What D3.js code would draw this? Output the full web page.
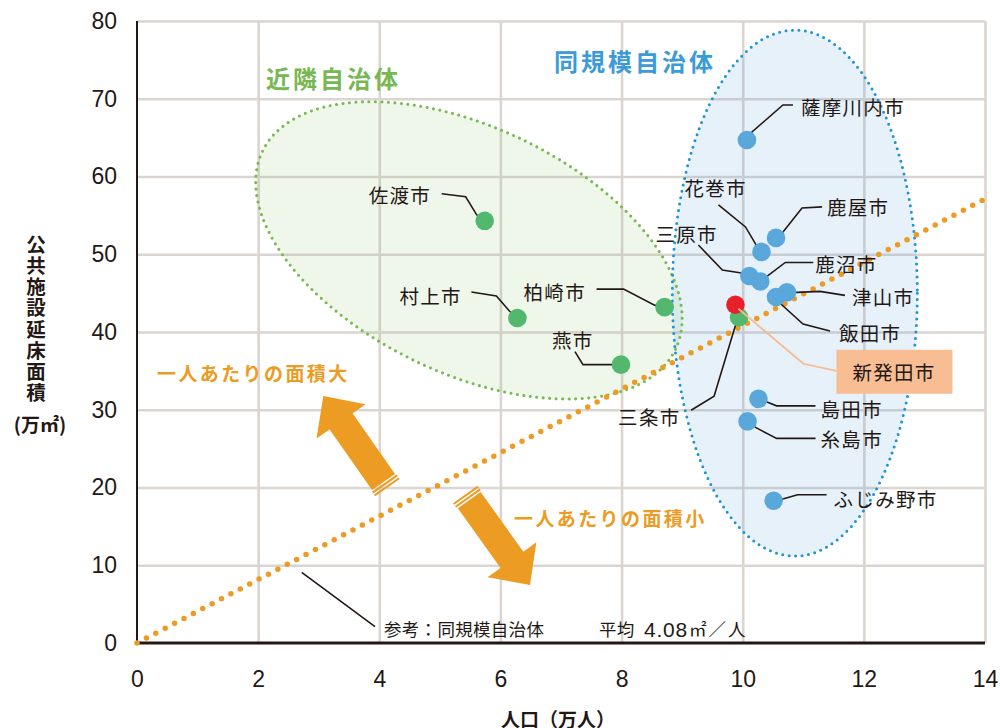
<!DOCTYPE html>
<html><head><meta charset="utf-8">
<script src="https://cdn.jsdelivr.net/npm/d3@7"></script>
<style>
html,body{margin:0;padding:0;background:#fff;}
svg{display:block;}
</style></head><body>
<svg id="chart" width="1000" height="728"></svg>
<script>
// Population (万人) vs. total floor area of public facilities (万㎡)
const nearbyCities = ["佐渡市", "村上市", "柏崎市", "燕市", "三条市"];
const nearbyPop    = [5.74, 6.28, 8.71, 7.99, 9.94];
const nearbyArea   = [54.3, 41.8, 43.2, 35.8, 41.9];

const peerCities = ["薩摩川内市", "鹿屋市", "花巻市", "三原市", "鹿沼市", "津山市", "飯田市", "島田市", "糸島市", "ふじみ野市"];
const peerPop    = [10.07, 10.55, 10.31, 10.11, 10.29, 10.73, 10.55, 10.26, 10.08, 10.51];
const peerArea   = [64.7, 52.1, 50.3, 47.2, 46.5, 45.1, 44.5, 31.4, 28.5, 18.3];

const focusCity = "新発田市";
const focusPop  = 9.88;
const focusArea = 43.5;

const peerAverage = 4.08;   // ㎡ per person (= 万㎡ per 万人)
const xTicks = [0, 2, 4, 6, 8, 10, 12, 14];
const yTicks = [0, 10, 20, 30, 40, 50, 60, 70, 80];

// Leader-line layout for each city label: bends relative to the marker, label start and centre line
const labelLayout = {
  "佐渡市":   {path: [[-8,-6],[-19,-24],[-43,-27]], tx: -116, ty: -26},
  "村上市":   {path: [[-8,-7],[-21,-22],[-46,-26]], tx: -118, ty: -23},
  "柏崎市":   {path: [[-10,-2],[-41,-18],[-68,-18]], tx: -141, ty: -16},
  "燕市":     {path: [[-9,0],[-38,0],[-46,-13]],   tx: -69,  ty: -25},
  "三条市":   {path: [[-3,6],[-25,79],[-48,93]],   tx: -121, ty: 99},
  "薩摩川内市": {path: [[5,-8],[36,-35],[46,-35]],  tx: 54,   ty: -33},
  "鹿屋市":   {path: [[7,-6],[26,-30],[46,-31]],   tx: 51,   ty: -31},
  "花巻市":   {path: [[-6,-8],[-16,-25],[-43,-47]], tx: -77,  ty: -64},
  "三原市":   {path: [[-8,-3],[-27,-6],[-51,-31]],  tx: -94,  ty: -43},
  "鹿沼市":   {path: [[8,-6],[25,-19],[53,-19]],   tx: 55,   ty: -18},
  "津山市":   {path: [[10,0],[33,-1],[58,3]],      tx: 65,   ty: 4},
  "飯田市":   {path: [[6,8],[27,27],[54,34]],      tx: 63,   ty: 35},
  "島田市":   {path: [[8,3],[18,7],[57,7]],        tx: 62,   ty: 10},
  "糸島市":   {path: [[8,6],[29,17],[68,17]],      tx: 73,   ty: 17},
  "ふじみ野市": {path: [[10,-2],[24,-6],[53,-6]],   tx: 60,   ty: -2}
};

const svg = d3.select("#chart");
const x = d3.scaleLinear().domain([0, 14]).range([137, 985]);
const y = d3.scaleLinear().domain([0, 80]).range([643, 21]);

const jp = "'Noto Sans CJK JP', 'Noto Sans', sans-serif";
const latin = "'Liberation Sans', Arial, sans-serif";
const ink = "#231815";
const orange = "#ec9b23";
const green = "#52b86e", greenLine = "#79ba51", greenText = "#77b852";
const blue = "#5aa7dc", blueLine = "#1f94d4", blueText = "#3a9bd8";

// Grid
const grid = svg.append("g");
grid.append("g")
  .attr("transform", `translate(0,${y(0)})`)
  .call(d3.axisBottom(x).tickValues(xTicks.slice(1)).tickSize(-(y(0) - y(80))).tickFormat(""))
  .call(g => g.select(".domain").remove())
  .call(g => g.selectAll("line").attr("stroke", "#dbd5d2").attr("stroke-width", 2.6));
grid.append("g")
  .attr("transform", `translate(${x(0)},0)`)
  .call(d3.axisLeft(y).tickValues(yTicks.slice(1)).tickSize(-(x(14) - x(0))).tickFormat(""))
  .call(g => g.select(".domain").remove())
  .call(g => g.selectAll("line").attr("stroke", "#dbd5d2").attr("stroke-width", 2.6));

// Group ellipses
const groups = svg.append("g");
const gEll = {cx: x(5.48), cy: y(50.5), rx: 229, ry: 123, rot: 25.6};
const bEll = {cx: x(10.86), cy: y(45.0), rx: 122.5, ry: 263, rot: 0};
[[gEll, "rgba(120,185,80,0.12)"], [bEll, "rgba(60,145,215,0.13)"]].forEach(([e, f]) => {
  groups.append("ellipse")
    .attr("cx", e.cx).attr("cy", e.cy).attr("rx", e.rx).attr("ry", e.ry)
    .attr("transform", `rotate(${e.rot},${e.cx},${e.cy})`)
    .attr("fill", f);
});
[[gEll, greenLine], [bEll, blueLine]].forEach(([e, c]) => {
  groups.append("ellipse")
    .attr("cx", e.cx).attr("cy", e.cy).attr("rx", e.rx).attr("ry", e.ry)
    .attr("transform", `rotate(${e.rot},${e.cx},${e.cy})`)
    .attr("fill", "none").attr("stroke", c).attr("stroke-width", 3)
    .attr("stroke-dasharray", "0 6.5").attr("stroke-linecap", "round");
});

// Axis lines
svg.append("line").attr("x1", x(0)).attr("x2", x(0)).attr("y1", y(80)).attr("y2", y(0))
  .attr("stroke", ink).attr("stroke-width", 2);
svg.append("line").attr("x1", x(0) - 1).attr("x2", x(14)).attr("y1", y(0)).attr("y2", y(0))
  .attr("stroke", ink).attr("stroke-width", 3);

// Tick labels
svg.append("g").attr("transform", `translate(0,${y(0)})`)
  .call(d3.axisBottom(x).tickValues(xTicks).tickSize(0).tickPadding(28).tickFormat(d3.format("d")))
  .call(g => g.select(".domain").remove())
  .call(g => g.selectAll("text").attr("font-family", latin).attr("font-size", 23).attr("fill", ink));
svg.append("g").attr("transform", `translate(${x(0)},0)`)
  .call(d3.axisLeft(y).tickValues(yTicks).tickSize(0).tickPadding(20).tickFormat(d3.format("d")))
  .call(g => g.select(".domain").remove())
  .call(g => g.selectAll("text").attr("font-family", latin).attr("font-size", 23).attr("fill", ink));

// Axis titles
svg.append("text").attr("x", 558).attr("y", 718).attr("text-anchor", "middle")
  .attr("dominant-baseline", "central").attr("font-family", jp).attr("font-size", 19)
  .attr("font-weight", 700).attr("fill", ink).text("人口（万人）");
svg.append("text").attr("x", 36).attr("y", 235)
  .attr("writing-mode", "vertical-rl").attr("font-family", jp).attr("font-size", 19.5)
  .attr("letter-spacing", 1.6).attr("font-weight", 700).attr("fill", ink)
  .text("公共施設延床面積");
svg.append("text").attr("x", 40).attr("y", 423).attr("text-anchor", "middle")
  .attr("dominant-baseline", "central").attr("font-family", jp).attr("font-size", 19)
  .attr("font-weight", 700).attr("fill", ink).text("(万㎡)");

// Reference line: peer average per person
svg.append("line")
  .attr("x1", x(0)).attr("y1", y(0))
  .attr("x2", x(14)).attr("y2", y(14 * peerAverage))
  .attr("stroke", orange).attr("stroke-width", 5.5)
  .attr("stroke-dasharray", "0 10.6").attr("stroke-linecap", "round");

// Direction arrows with broken tails
function arrow(tail, tip) {
  const T = [x(tail[0]), y(tail[1])], P = [x(tip[0]), y(tip[1])];
  const L = Math.hypot(P[0] - T[0], P[1] - T[1]);
  const u = [(P[0] - T[0]) / L, (P[1] - T[1]) / L], n = [-u[1], u[0]];
  const sw = 14, hw = 30, hl = 31;
  const B = [P[0] - u[0] * hl, P[1] - u[1] * hl];
  const pt = (o, k) => [o[0] + n[0] * k, o[1] + n[1] * k];
  const body = [pt(T, sw), pt(B, sw), pt(B, hw), P, pt(B, -hw), pt(B, -sw), pt(T, -sw)];
  svg.append("polygon").attr("points", body.map(p => p.join(",")).join(" ")).attr("fill", orange);
  [[1.4, 3.4], [4.8, 6.8]].forEach(([a, b]) => {
    const A = [T[0] - u[0] * a, T[1] - u[1] * a], C = [T[0] - u[0] * b, T[1] - u[1] * b];
    const s = [pt(A, sw + 1), pt(C, sw + 1), pt(C, -sw - 1), pt(A, -sw - 1)];
    svg.append("polygon").attr("points", s.map(p => p.join(",")).join(" ")).attr("fill", orange);
  });
}
arrow([4.07, 20.7], [3.076, 31.77]);
arrow([5.485, 18.39], [6.488, 7.46]);

// Annotation texts
svg.append("text").attr("x", 157).attr("y", 372).attr("dominant-baseline", "central")
  .attr("font-family", jp).attr("font-size", 19).attr("font-weight", 700)
  .attr("letter-spacing", 2.4).attr("fill", orange).text("一人あたりの面積大");
svg.append("text").attr("x", 514).attr("y", 517).attr("dominant-baseline", "central")
  .attr("font-family", jp).attr("font-size", 19).attr("font-weight", 700)
  .attr("letter-spacing", 2.4).attr("fill", orange).text("一人あたりの面積小");
svg.append("text").attr("x", 266).attr("y", 77).attr("dominant-baseline", "central")
  .attr("font-family", jp).attr("font-size", 24).attr("font-weight", 700)
  .attr("letter-spacing", 3).attr("fill", greenText).text("近隣自治体");
svg.append("text").attr("x", 554).attr("y", 60).attr("dominant-baseline", "central")
  .attr("font-family", jp).attr("font-size", 24).attr("font-weight", 700)
  .attr("letter-spacing", 3).attr("fill", blueText).text("同規模自治体");

// Reference line caption
svg.append("line").attr("x1", 301.7).attr("y1", 572.3).attr("x2", 375).attr("y2", 626.7)
  .attr("stroke", ink).attr("stroke-width", 1.6);
const cap = svg.append("g").attr("font-family", jp).attr("font-size", 17.5).attr("fill", ink);
cap.append("text").attr("x", 384).attr("y", 628).attr("dominant-baseline", "central")
  .attr("letter-spacing", 0.3).text("参考：同規模自治体");
cap.append("text").attr("x", 599).attr("y", 628).attr("dominant-baseline", "central")
  .attr("letter-spacing", 0.3).text("平均");
cap.append("text").attr("x", 644).attr("y", 629).attr("dominant-baseline", "central")
  .attr("font-family", latin).attr("font-size", 21).attr("letter-spacing", 0.8)
  .text(d3.format(".2f")(peerAverage));
cap.append("text").attr("x", 689).attr("y", 628).attr("dominant-baseline", "central")
  .attr("letter-spacing", 2).text("㎡／人");

// City markers with leader lines
const cities = [
  ...nearbyCities.map((c, i) => ({name: c, pop: nearbyPop[i], area: nearbyArea[i], fill: green})),
  ...peerCities.map((c, i) => ({name: c, pop: peerPop[i], area: peerArea[i], fill: blue}))
];
const leaders = svg.append("g");
const labels = svg.append("g");
cities.forEach(c => {
  const px = x(c.pop), py = y(c.area), L = labelLayout[c.name];
  leaders.append("polyline")
    .attr("points", [[0, 0], ...L.path].map(p => [px + p[0], py + p[1]].join(",")).join(" "))
    .attr("fill", "none").attr("stroke", ink).attr("stroke-width", 1.6);
  labels.append("text").attr("x", px + L.tx).attr("y", py + L.ty)
    .attr("dominant-baseline", "central").attr("font-family", jp).attr("font-size", 19.5)
    .attr("letter-spacing", 1.3).attr("fill", ink).text(c.name);
});
svg.append("g").selectAll("circle").data(cities).join("circle")
  .attr("cx", d => x(d.pop)).attr("cy", d => y(d.area)).attr("r", 9.3)
  .attr("fill", d => d.fill);

// Focus city
const fx = x(focusPop), fy = y(focusArea);
svg.append("circle").attr("cx", fx).attr("cy", fy).attr("r", 9.3).attr("fill", "#e8202a");
svg.append("polyline")
  .attr("points", [[3, 4], [68, 59], [101, 66]].map(p => [fx + p[0], fy + p[1]].join(",")).join(" "))
  .attr("fill", "none").attr("stroke", "#f6bb91").attr("stroke-width", 1.8);
svg.append("rect").attr("x", fx + 101).attr("y", fy + 45).attr("width", 116).attr("height", 44)
  .attr("fill", "#f8bd93");
svg.append("text").attr("x", fx + 117).attr("y", fy + 67).attr("dominant-baseline", "central")
  .attr("font-family", jp).attr("font-size", 19.5).attr("letter-spacing", 1.3)
  .attr("fill", ink).text(focusCity);
</script>
</body></html>
